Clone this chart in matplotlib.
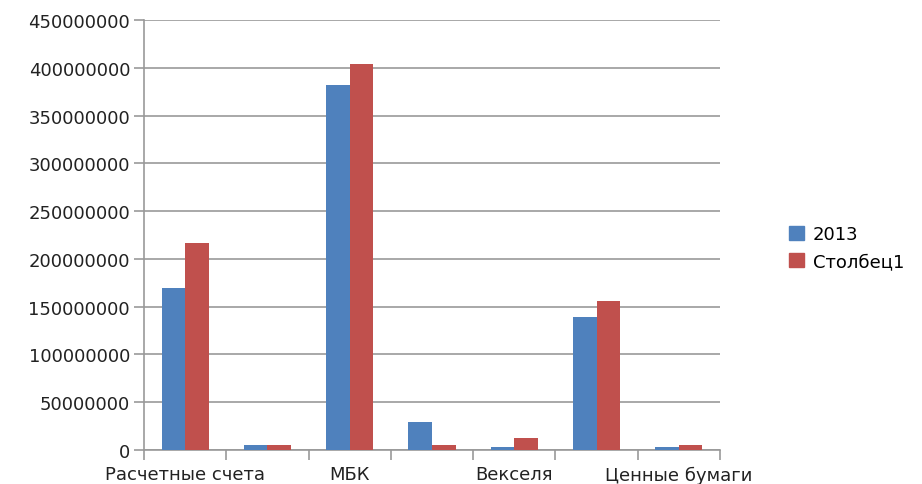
import matplotlib
matplotlib.use("Agg")
import matplotlib.pyplot as plt
import numpy as np
from matplotlib.patches import Patch

# categories (only every other label is shown on the original axis)
categories = ["Расчетные счета", "", "МБК", "", "Векселя", "", "Ценные бумаги"]
series_names = ["2013", "Столбец1"]
values_2013 = [170000000, 5000000, 382000000, 29000000, 3000000, 139000000, 3000000]
values_col1 = [217000000, 5000000, 404000000, 5000000, 12500000, 156000000, 5000000]
yticks = [0, 50000000, 100000000, 150000000, 200000000, 250000000,
          300000000, 350000000, 400000000, 450000000]

blue = "#4F81BD"
red = "#C0504D"
grid_col = "#999999"
text_col = "#222222"

plt.rcParams["font.family"] = ["DejaVu Sans"]

fig = plt.figure(figsize=(9.22, 4.85), dpi=100)
ax = fig.add_axes([144 / 922, 34 / 485, 576 / 922, 430 / 485])

n = len(categories)
x = np.arange(n)
w = 1 / 3.5  # gap width 150%
ax.bar(x + 0.5 - w / 2, values_2013, width=w, color=blue, zorder=3)
ax.bar(x + 0.5 + w / 2, values_col1, width=w, color=red, zorder=3)

ax.set_xlim(0, n)
ax.set_ylim(yticks[0], yticks[-1])
ax.set_yticks(yticks)
ax.set_yticklabels([str(v) for v in yticks], fontsize=13, color=text_col)
ax.yaxis.grid(True, color=grid_col, linewidth=1.2, zorder=0)

# category boundaries get tick marks, labels sit at centers
ax.set_xticks(np.arange(n + 1))
ax.set_xticklabels([])
ax.set_xticks(x + 0.5, minor=True)
ax.set_xticklabels(categories, minor=True, fontsize=13, color=text_col)
ax.tick_params(axis="x", which="minor", length=0, pad=11)
ax.tick_params(axis="x", which="major", length=7, width=1.2, color=grid_col)
ax.tick_params(axis="y", length=7, width=1.2, color=grid_col, pad=3)

for side in ["top", "right"]:
    ax.spines[side].set_visible(False)
for side in ["left", "bottom"]:
    ax.spines[side].set_color(grid_col)
    ax.spines[side].set_linewidth(1.2)

handles = [Patch(color=blue), Patch(color=red)]
fig.legend(handles, series_names, loc="center left",
           bbox_to_anchor=(782 / 922, 1 - 249 / 485), frameon=False,
           fontsize=13, handlelength=0.8, handleheight=0.8,
           handletextpad=0.5, labelspacing=0.5, borderaxespad=0)

fig.savefig("out.png", dpi=100)
